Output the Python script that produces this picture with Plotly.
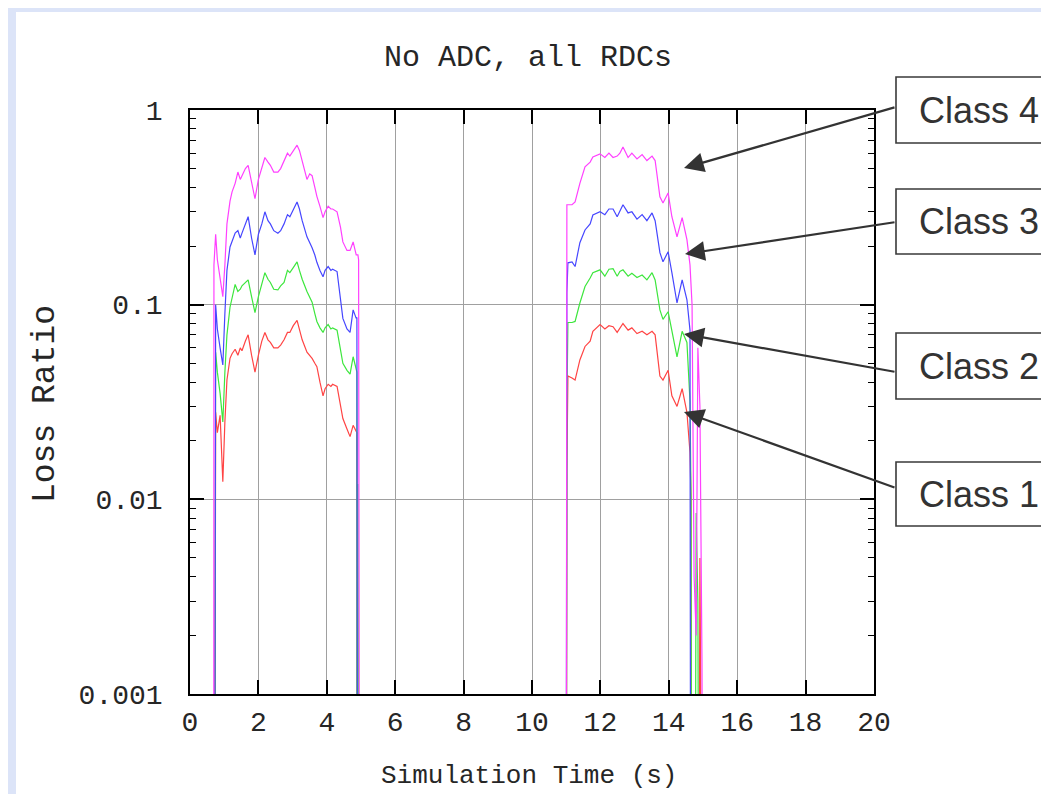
import plotly.graph_objects as go

# ---------------- data ----------------
# time grid, first burst (s)
time_a = [0.0, 0.69, 0.70, 0.75, 0.80, 0.88, 0.96, 1.02, 1.08, 1.17,
          1.23, 1.32, 1.40, 1.47, 1.52, 1.62, 1.70, 1.80, 1.90, 2.00,
          2.10, 2.19, 2.28, 2.35, 2.45, 2.57, 2.65, 2.75, 2.85, 2.92,
          3.02, 3.13, 3.20, 3.28, 3.42, 3.50, 3.57, 3.65, 3.71, 3.80,
          3.89, 3.95, 4.04, 4.12, 4.17, 4.30, 4.40, 4.47, 4.59, 4.68,
          4.77, 4.86, 4.88, 4.89, 4.91, 4.93, 4.95, 4.97, 6.0]
# time grid, second burst (s)
time_b = [10.99, 11.02, 11.05, 11.17, 11.26, 11.40, 11.55, 11.70, 11.78, 11.99,
          12.13, 12.25, 12.37, 12.49, 12.57, 12.66, 12.81, 12.92, 13.07, 13.22,
          13.36, 13.51, 13.60, 13.74, 13.83, 13.98, 14.09, 14.24, 14.39, 14.53,
          14.62, 14.65, 14.68, 14.74, 14.80, 14.85, 14.91, 14.97, 15.03, 20.0]

class4_a = [0, 0, 0.16, 0.23, 0.17, 0.14, 0.11, 0.16, 0.26, 0.34,
            0.38, 0.42, 0.48, 0.44, 0.46, 0.50, 0.52, 0.42, 0.35, 0.44,
            0.50, 0.57, 0.54, 0.52, 0.48, 0.48, 0.50, 0.55, 0.60, 0.58,
            0.62, 0.66, 0.62, 0.54, 0.44, 0.47, 0.46, 0.40, 0.36, 0.32,
            0.28, 0.30, 0.32, 0.31, 0.31, 0.30, 0.25, 0.21, 0.19, 0.19,
            0.21, 0.18, 0.18, 0.18, 0.18, 0.17, 0, 0, 0]
class3_a = [0, 0, 0, 0.10, 0.075, 0.06, 0.049, 0.09, 0.15, 0.198,
            0.21, 0.233, 0.24, 0.22, 0.233, 0.26, 0.283, 0.22, 0.18, 0.23,
            0.26, 0.30, 0.27, 0.26, 0.24, 0.233, 0.24, 0.26, 0.29, 0.283,
            0.31, 0.337, 0.31, 0.27, 0.223, 0.21, 0.196, 0.18, 0.165, 0.15,
            0.139, 0.15, 0.157, 0.15, 0.152, 0.148, 0.11, 0.085, 0.075, 0.072,
            0.094, 0.085, 0.086, 0, 0, 0, 0, 0, 0]
class2_a = [0, 0, 0, 0.057, 0.045, 0.035, 0.025, 0.045, 0.07, 0.097,
            0.11, 0.127, 0.117, 0.12, 0.125, 0.13, 0.134, 0.11, 0.091, 0.11,
            0.13, 0.146, 0.135, 0.13, 0.12, 0.119, 0.125, 0.13, 0.15, 0.146,
            0.155, 0.166, 0.15, 0.135, 0.117, 0.11, 0.103, 0.09, 0.082, 0.076,
            0.072, 0.076, 0.079, 0.075, 0.076, 0.074, 0.058, 0.05, 0.046, 0.044,
            0.054, 0.046, 0.045, 0, 0.012, 0, 0, 0, 0]
class1_a = [0, 0, 0, 0.028, 0.022, 0.027, 0.0123, 0.025, 0.041, 0.053,
            0.056, 0.059, 0.055, 0.06, 0.058, 0.065, 0.07, 0.055, 0.045, 0.055,
            0.065, 0.072, 0.066, 0.064, 0.06, 0.06, 0.062, 0.066, 0.072, 0.072,
            0.078, 0.083, 0.075, 0.066, 0.057, 0.055, 0.053, 0.05, 0.048, 0.04,
            0.034, 0.037, 0.039, 0.038, 0.039, 0.038, 0.03, 0.026, 0.023, 0.021,
            0.024, 0.022, 0.022, 0, 0, 0, 0, 0, 0]

class4_b = [0, 0.326, 0.326, 0.326, 0.337, 0.42, 0.51, 0.54, 0.574, 0.595,
            0.57, 0.60, 0.57, 0.58, 0.60, 0.646, 0.57, 0.60, 0.56, 0.59,
            0.55, 0.58, 0.55, 0.358, 0.333, 0.375, 0.283, 0.223, 0.28, 0.216,
            0.16, 0.12, 0.10, 0.004, 0.002, 0.06, 0.03, 0.0015, 0, 0]
class3_b = [0, 0.115, 0.164, 0.166, 0.157, 0.208, 0.242, 0.26, 0.289, 0.30,
            0.29, 0.31, 0.31, 0.283, 0.30, 0.326, 0.296, 0.30, 0.275, 0.29,
            0.27, 0.296, 0.27, 0.185, 0.166, 0.187, 0.146, 0.102, 0.134, 0.106,
            0.074, 0, 0, 0, 0, 0, 0, 0, 0, 0]
class2_b = [0, 0.03, 0.081, 0.081, 0.082, 0.102, 0.124, 0.137, 0.146, 0.151,
            0.14, 0.152, 0.153, 0.14, 0.148, 0.151, 0.14, 0.145, 0.138, 0.142,
            0.134, 0.146, 0.134, 0.094, 0.084, 0.092, 0.072, 0.054, 0.073, 0.064,
            0.032, 0.01, 0, 0, 0.0085, 0.003, 0, 0, 0, 0]
class1_b = [0, 0.0142, 0.043, 0.042, 0.041, 0.052, 0.061, 0.065, 0.073, 0.079,
            0.075, 0.078, 0.077, 0.072, 0.076, 0.08, 0.074, 0.076, 0.071, 0.073,
            0.07, 0.073, 0.07, 0.043, 0.041, 0.046, 0.034, 0.030, 0.037, 0.028,
            0.0174, 0.01, 0, 0, 0, 0, 0.005, 0, 0, 0]

series_names = ["Class 1", "Class 2", "Class 3", "Class 4"]
series_colors = ["#ff4444", "#3de63d", "#4646ff", "#ff40ff"]

x_tick_vals = [0, 2, 4, 6, 8, 10, 12, 14, 16, 18, 20]
y_tick_vals = [0.001, 0.01, 0.1, 1]
y_tick_text = ["0.001", "0.01", "0.1", "1"]

# callout boxes: label, box top/bottom (px), arrow tail (px), arrow tip (px)
callouts = [
    ("Class 4", 77, 143, (896, 107), (684, 168)),
    ("Class 3", 189, 254, (896, 222), (685, 254)),
    ("Class 2", 333, 399, (896, 372), (684, 334)),
    ("Class 1", 462, 526, (896, 488), (684, 412)),
]

# ---------------- figure ----------------
OFF = 8                       # page body margin
W, H = 1049 - OFF, 794 - OFF  # figure size
# plot area in page pixels
PL, PR, PT, PB = 190, 874, 110, 694
L, R, T, B = PL - OFF, PR - OFF, PT - OFF, PB - OFF
MONO = "Liberation Mono"
TXT = "#262626"


def fx(p):
    return (p - OFF - L) / (R - L)


def fy(p):
    return (B - (p - OFF)) / (B - T)


time_all = time_a + time_b
values = [class1_a + class1_b, class2_a + class2_b,
          class3_a + class3_b, class4_a + class4_b]

fig = go.Figure()
for name, color, vals in zip(series_names, series_colors, values):
    assert len(vals) == len(time_all)
    # a zero loss ratio drops the line off the bottom of the log axis
    yv = [v if v > 0 else 1e-6 for v in vals]
    fig.add_trace(go.Scatter(x=time_all, y=yv, mode="lines", name=name,
                             line=dict(color=color, width=1.2),
                             showlegend=False, hoverinfo="skip"))

axis_common = dict(
    showline=True, linecolor="#000000", linewidth=1.6,
    mirror="allticks", ticks="inside", tickcolor="#000000",
    ticklen=14, tickwidth=1.6,
    showgrid=True, gridcolor="#a0a0a0", gridwidth=1.4,
    zeroline=False,
    tickfont=dict(family=MONO, size=28, color=TXT),
)

fig.update_xaxes(range=[0, 20], tickvals=x_tick_vals,
                 ticktext=[str(v) for v in x_tick_vals],
                 ticklabelstandoff=2, **axis_common)
fig.update_yaxes(type="log", range=[-3, 0], tickvals=y_tick_vals,
                 ticktext=y_tick_text, ticklabelstandoff=20,
                 minor=dict(ticks="inside", ticklen=6, tickwidth=1.4,
                            tickcolor="#000000", dtick="D1", showgrid=False),
                 **axis_common)

shapes = [
    # white slide card over the light-blue slide background
    dict(type="rect", xref="paper", yref="paper", x0=fx(16), x1=fx(1080),
         y0=fy(820), y1=fy(12), fillcolor="#ffffff", line=dict(width=0),
         layer="below"),
]
annotations = [
    dict(text="No ADC, all RDCs", xref="paper", yref="paper",
         x=fx(528), y=fy(58), showarrow=False,
         xanchor="center", yanchor="middle",
         font=dict(family=MONO, size=30, color=TXT)),
    dict(text="Simulation Time (s)", xref="paper", yref="paper",
         x=fx(529), y=fy(776), showarrow=False,
         xanchor="center", yanchor="middle",
         font=dict(family=MONO, size=26, color=TXT)),
    dict(text="Loss Ratio", xref="paper", yref="paper",
         x=fx(45), y=fy(404), showarrow=False, textangle=-90,
         xanchor="center", yanchor="middle",
         font=dict(family=MONO, size=33, color=TXT)),
]
BOX_L, BOX_R = 896, 1100
for label, top, bot, tail, tip in callouts:
    # box runs off the right edge of the slide: draw top, left, bottom sides
    x0, x1 = fx(BOX_L), fx(BOX_R)
    y0, y1 = fy(bot), fy(top)
    shapes.append(dict(type="rect", xref="paper", yref="paper",
                       x0=x0, x1=x1, y0=y0, y1=y1,
                       fillcolor="#ffffff", line=dict(width=0)))
    shapes.append(dict(type="path", xref="paper", yref="paper",
                       path=f"M {x1},{y1} L {x0},{y1} L {x0},{y0} L {x1},{y0}",
                       line=dict(color="#3a3a3a", width=1.6)))
    annotations.append(dict(text=label, xref="paper", yref="paper",
                            x=fx(979), y=fy((top + bot) / 2), showarrow=False,
                            xanchor="center", yanchor="middle",
                            font=dict(family="Liberation Sans", size=36,
                                      color="#333333")))
    annotations.append(dict(text="", xref="paper", yref="paper",
                            x=fx(tip[0]), y=fy(tip[1]),
                            ax=tail[0] - tip[0], ay=tail[1] - tip[1],
                            axref="pixel", ayref="pixel",
                            showarrow=True, arrowhead=2, arrowsize=1.8,
                            arrowwidth=2.2, arrowcolor="#333333"))

fig.update_layout(
    width=W, height=H,
    margin=dict(l=L, r=W - R, t=T, b=H - B, pad=0),
    paper_bgcolor="#dce4f8", plot_bgcolor="#ffffff",
    shapes=shapes, annotations=annotations,
    showlegend=False,
)

fig.write_html("out.html")
